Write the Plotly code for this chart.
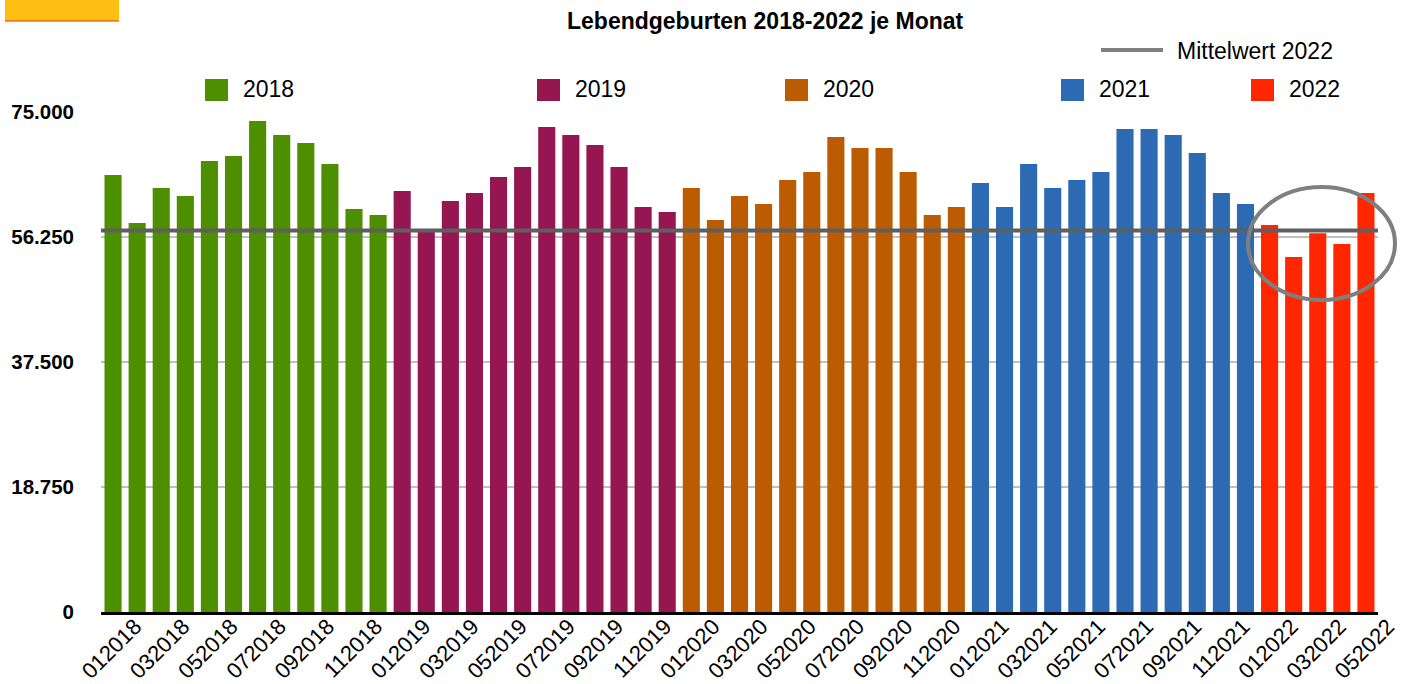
import plotly.graph_objects as go

# ---------------- data ----------------
years = ["2018", "2019", "2020", "2021", "2022"]
month_numbers = ["01", "02", "03", "04", "05", "06", "07", "08", "09", "10", "11", "12"]

births_2018 = [65550, 58350, 63600, 62400, 67650, 68400, 73650, 71550, 70350, 67200, 60450, 59550]
births_2019 = [63150, 57200, 61650, 62850, 65250, 66750, 72750, 71550, 70050, 66750, 60750, 60000]
births_2020 = [63600, 58800, 62400, 61200, 64800, 66000, 71250, 69600, 69600, 66000, 59550, 60750]
births_2021 = [64350, 60750, 67200, 63600, 64800, 66000, 72450, 72450, 71550, 68850, 62850, 61200]
births_2022 = [58050, 53250, 56800, 55200, 62850]

series_values = [births_2018, births_2019, births_2020, births_2021, births_2022]
colors = ["#4E8F00", "#951650", "#BC5C02", "#2C6BB4", "#FF2600"]

y_tick_values = [0, 18750, 37500, 56250, 75000]
mean_2022 = sum(births_2022) / len(births_2022)

title_text = "Lebendgeburten 2018-2022 je Monat"
mean_label = "Mittelwert 2022"

# ---------------- layout geometry ----------------
W, H = 1411, 684
L, R, T, B = 101, 33, 112, 72
PW, PH = W - L - R, H - T - B


def px(x):
    return (x - L) / PW


def py(y):
    return 1 - (y - T) / PH


fig = go.Figure()
all_categories = []
for year, vals, col in zip(years, series_values, colors):
    cats = [m + year for m in month_numbers[: len(vals)]]
    all_categories += cats
    fig.add_trace(go.Bar(x=cats, y=vals, name=year, marker_color=col,
                         marker_line_width=0, showlegend=False))

font_family = "Liberation Sans, Arial, sans-serif"

shapes = []
annotations = []

# mean line
shapes.append(dict(type="line", xref="paper", yref="y", x0=0, x1=1, y0=mean_2022, y1=mean_2022,
                   line=dict(color="#5F5F5F", width=4), layer="above"))
# ellipse highlight
shapes.append(dict(type="circle", xref="paper", yref="paper",
                   x0=px(1248), x1=px(1395), y0=py(300), y1=py(187),
                   line=dict(color="#7F7F7F", width=4), layer="above"))
# orange box top-left
shapes.append(dict(type="rect", xref="paper", yref="paper", x0=px(5), x1=px(119), y0=py(21), y1=py(0),
                   fillcolor="#FCBF12", line=dict(width=0)))
shapes.append(dict(type="line", xref="paper", yref="paper", x0=px(5), x1=px(119), y0=py(21), y1=py(21),
                   line=dict(color="#E0301E", width=1)))

# legend (manual)
leg_sq = [205, 537, 785, 1061, 1251]
for year, col, sx in zip(years, colors, leg_sq):
    shapes.append(dict(type="rect", xref="paper", yref="paper", x0=px(sx), x1=px(sx + 23),
                       y0=py(101), y1=py(79), fillcolor=col, line=dict(width=0)))
    annotations.append(dict(text=year, xref="paper", yref="paper", x=px(sx + 36), y=py(89),
                            xanchor="left", yanchor="middle", showarrow=False,
                            font=dict(family=font_family, size=23, color="#000000")))
shapes.append(dict(type="line", xref="paper", yref="paper", x0=px(1101), x1=px(1163), y0=py(50), y1=py(50),
                   line=dict(color="#808080", width=4)))
annotations.append(dict(text=mean_label, xref="paper", yref="paper", x=px(1175), y=py(51),
                        xanchor="left", yanchor="middle", showarrow=False,
                        font=dict(family=font_family, size=23, color="#000000")))
# title
annotations.append(dict(text="<b>" + title_text + "</b>", xref="paper", yref="paper", x=px(766), y=py(21),
                        xanchor="center", yanchor="middle", showarrow=False,
                        font=dict(family=font_family, size=23, color="#000000")))

fig.update_layout(
    width=W, height=H,
    margin=dict(l=L, r=R, t=T, b=B, pad=0, autoexpand=False),
    paper_bgcolor="white", plot_bgcolor="white",
    barmode="overlay", bargap=0.29,
    separators=",.",
    shapes=shapes, annotations=annotations,
    font=dict(family=font_family, color="#000000"),
)
fig.update_xaxes(
    type="category", categoryorder="array", categoryarray=all_categories,
    tickmode="array", tickvals=all_categories[::2], ticktext=all_categories[::2],
    tickangle=-45, tickfont=dict(size=22, family=font_family, color="#000000"),
    ticklabelshift=22, ticklabelstandoff=-10,
    showgrid=False, showline=True, linecolor="#000000", linewidth=3, ticks="",
    range=[-0.5, len(all_categories) - 0.5], automargin=False,
)
fig.update_yaxes(
    range=[0, 75000], tickmode="array", tickvals=y_tick_values, tickformat=",d",
    tickfont=dict(size=20.5, family=font_family, color="#000000", weight="bold"),
    showgrid=True, gridcolor="#C0C0C0", gridwidth=2,
    zeroline=False, showline=False, ticks="", ticklabelstandoff=26, automargin=False,
)

fig.write_html("out.html", config={"displayModeBar": False},
               post_script="document.body.style.margin='0';document.body.style.overflow='hidden';")
